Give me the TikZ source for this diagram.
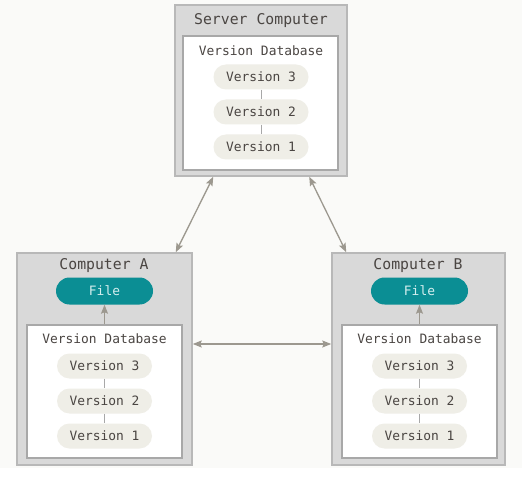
\documentclass[tikz,border=0pt]{standalone}
\usepackage{fontspec}
\setmonofont{DejaVu Sans Mono}
\usetikzlibrary{arrows.meta}
\definecolor{bgc}{HTML}{FAFAF8}
\definecolor{outerfill}{HTML}{D9D9D9}
\definecolor{outerdraw}{HTML}{B8B8B8}
\definecolor{innerdraw}{HTML}{A8A8A8}
\definecolor{pillfill}{HTML}{EFEEE7}
\definecolor{txt}{HTML}{4A4542}
\definecolor{teal}{HTML}{0B8E94}
\definecolor{filetxt}{HTML}{D4EEEE}
\definecolor{arr}{HTML}{9C988F}
\tikzset{
  outerbox/.style={draw=outerdraw,fill=outerfill,line width=1.5pt,inner sep=0pt},
  innerbox/.style={draw=innerdraw,fill=white,line width=1.2pt,inner sep=0pt},
  pill/.style={fill=pillfill,rounded corners=12.5pt,minimum width=95pt,minimum height=25pt,inner sep=0pt,text=txt,font=\ttfamily\fontsize{12.9}{14}\selectfont},
  filepill/.style={fill=teal,rounded corners=13.5pt,minimum width=97pt,minimum height=27pt,inner sep=0pt,text=filetxt,font=\ttfamily\fontsize{12.9}{14}\selectfont},
  title/.style={text=txt,inner sep=0pt,font=\ttfamily\fontsize{14.8}{16}\selectfont},
  dbtitle/.style={text=txt,inner sep=0pt,font=\ttfamily\fontsize{12.9}{14}\selectfont},
  vlink/.style={draw=innerdraw,line width=0.8pt},
  conn/.style={draw=arr,line width=1.3pt,{Stealth[length=9pt,width=7pt,inset=1.5pt]}-{Stealth[length=9pt,width=7pt,inset=1.5pt]}},
  upconn/.style={draw=arr,line width=1.3pt,-{Stealth[length=9pt,width=7pt,inset=1.5pt]}}
}
\begin{document}
\begin{tikzpicture}[x=1pt,y=-1pt]
\useasboundingbox (0,0) rectangle (527,478);
\fill[white] (0,0) rectangle (527,478);
\fill[bgc] (0,0) rectangle (522,468);

% Server
\node[outerbox,minimum width=172pt,minimum height=171pt] (srv) at (261,90.5) {};
\node[innerbox,minimum width=155pt,minimum height=134pt] (srvdb) at (260.5,103) {};
\node[title] (srvt) at (261,21) {Server Computer};
\node[dbtitle] (srvdbt) at (261,51) {Version Database};
\node[pill] (s3) at (261,77) {Version 3};
\node[pill] (s2) at (261,112) {Version 2};
\node[pill] (s1) at (261,147) {Version 1};
\draw[vlink] (s3.south) -- (s2.north);
\draw[vlink] (s2.south) -- (s1.north);

% Computer A
\node[outerbox,minimum width=175pt,minimum height=212pt] (ca) at (104.5,359) {};
\node[innerbox,minimum width=155pt,minimum height=133pt] (cadb) at (104.5,391.5) {};
\node[title] (cat) at (104,266) {Computer A};
\node[filepill] (caf) at (104.5,291) {File};
\node[dbtitle] (cadbt) at (104.5,339) {Version Database};
\node[pill] (a3) at (104.5,366) {Version 3};
\node[pill] (a2) at (104.5,401) {Version 2};
\node[pill] (a1) at (104.5,436) {Version 1};
\draw[vlink] (a3.south) -- (a2.north);
\draw[vlink] (a2.south) -- (a1.north);
\draw[upconn] (cadb.north) -- (caf.south);

% Computer B
\node[outerbox,minimum width=173pt,minimum height=212pt] (cb) at (418.5,359) {};
\node[innerbox,minimum width=155pt,minimum height=133pt] (cbdb) at (419.5,391.5) {};
\node[title] (cbt) at (418,266) {Computer B};
\node[filepill] (cbf) at (419.5,291) {File};
\node[dbtitle] (cbdbt) at (419.5,339) {Version Database};
\node[pill] (b3) at (419.5,366) {Version 3};
\node[pill] (b2) at (419.5,401) {Version 2};
\node[pill] (b1) at (419.5,436) {Version 1};
\draw[vlink] (b3.south) -- (b2.north);
\draw[vlink] (b2.south) -- (b1.north);
\draw[upconn] (cbdb.north) -- (cbf.south);

% Connectors
\draw[conn] ([xshift=39pt]srv.south west) -- ([xshift=-17pt]ca.north east);
\draw[conn] ([xshift=-38.5pt]srv.south east) -- ([xshift=15pt]cb.north west);
\draw[conn] ([yshift=15pt]ca.east) -- ([yshift=15pt]cb.west);
\end{tikzpicture}
\end{document}
